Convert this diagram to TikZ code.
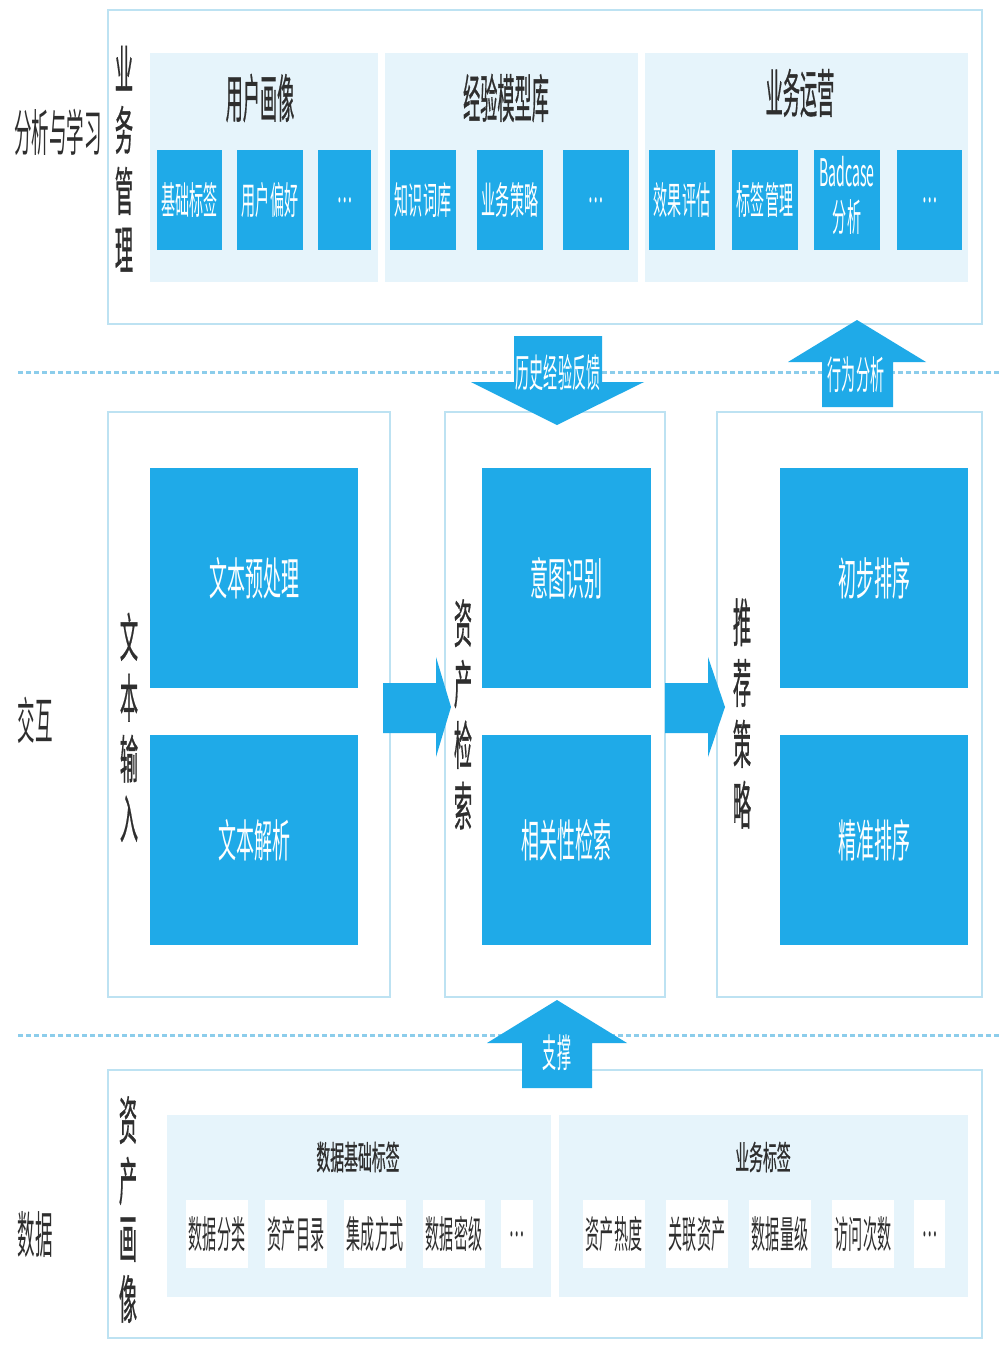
\documentclass[tikz,border=0pt]{standalone}
\usepackage{fontspec}
\usepackage{graphicx}
\setmainfont{Noto Sans CJK SC}
\newfontfamily\medfont{Noto Sans CJK SC}[FakeBold=0.9]
\definecolor{bblue}{HTML}{1FAAE8}
\definecolor{pfill}{HTML}{E6F4FB}
\definecolor{bord}{HTML}{BDE2F2}
\definecolor{dashc}{HTML}{8CCDEB}
\definecolor{tgray}{HTML}{2E2E2E}
\newcommand\hsq[2]{\scalebox{#1}[1]{#2}}
\newcommand\vtxt[2]{\scalebox{#1}[1]{\begin{tabular}{@{}c@{}}#2\end{tabular}}}
\tikzset{
  outerbox/.style={draw=bord, line width=2pt, fill=white, inner sep=0pt},
  panel/.style={fill=pfill, draw=none, inner sep=0pt},
  bluebox/.style={fill=bblue, draw=none, inner sep=0pt, text=white, align=center, font=\fontsize{38}{45}\selectfont},
  bigbox/.style={fill=bblue, draw=none, inner sep=0pt, text=white, font=\fontsize{45}{47}\selectfont},
  whitebox/.style={fill=white, draw=none, inner sep=0pt, text=tgray, font=\fontsize{38}{40}\selectfont},
  ttl/.style={text=tgray, inner sep=0pt, font=\medfont\fontsize{52}{54}\selectfont},
  bttl/.style={text=tgray, inner sep=0pt, font=\medfont\fontsize{33}{35}\selectfont},
  sidelab/.style={text=tgray, inner sep=0pt, font=\fontsize{50}{52}\selectfont},
  vlab/.style={text=tgray, inner sep=0pt, font=\medfont\fontsize{52}{57}\selectfont},
  blockarrow/.style={fill=bblue, draw=none},
  arrlab/.style={text=white, inner sep=0pt, font=\fontsize{39}{41}\selectfont},
  sepline/.style={draw=dashc, line width=3pt, dash pattern=on 5pt off 3pt}
}
\begin{document}
\begin{tikzpicture}[x=1pt,y=-1pt]
\useasboundingbox[fill=white] (0,0) rectangle (1000,1354);

% separator lines
\draw[sepline] (18,372) -- (1000,372);
\draw[sepline] (18,1035) -- (1000,1035);

% side labels
\node[sidelab] (lab1) at (58,132) {\hsq{0.35}{分析与学习}};
\node[sidelab] (lab2) at (35,720) {\hsq{0.35}{交互}};
\node[sidelab] (lab3) at (35,1235) {\hsq{0.35}{数据}};

% ===== top section =====
\node[outerbox, minimum width=874pt, minimum height=314pt] (top) at (545,167) {};
\node[vlab] (topv) at (124,166) {\vtxt{0.35}{业\\务\\管\\理}};
\node[panel, minimum width=228pt, minimum height=229pt] (p1) at (264,167.5) {};
\node[panel, minimum width=253pt, minimum height=229pt] (p2) at (511.5,167.5) {};
\node[panel, minimum width=323pt, minimum height=229pt] (p3) at (806.5,167.5) {};
\node[ttl] (p1t) at (260,98) {\hsq{0.33}{用户画像}};
\node[ttl] (p2t) at (506,98) {\hsq{0.33}{经验模型库}};
\node[ttl] (p3t) at (800,93) {\hsq{0.33}{业务运营}};
\node[bluebox, minimum width=65pt, minimum height=100pt] (b1) at (189.5,200) {\hsq{0.37}{基础标签}};
\node[bluebox, minimum width=66pt, minimum height=100pt] (b2) at (270,200) {\hsq{0.37}{用户偏好}};
\node[bluebox, minimum width=53pt, minimum height=100pt] (b3) at (344.5,200) {\hsq{0.37}{…}};
\node[bluebox, minimum width=66pt, minimum height=100pt] (b4) at (423,200) {\hsq{0.37}{知识词库}};
\node[bluebox, minimum width=66pt, minimum height=100pt] (b5) at (510,200) {\hsq{0.37}{业务策略}};
\node[bluebox, minimum width=66pt, minimum height=100pt] (b6) at (596,200) {\hsq{0.37}{…}};
\node[bluebox, minimum width=66pt, minimum height=100pt] (b7) at (682,200) {\hsq{0.37}{效果评估}};
\node[bluebox, minimum width=66pt, minimum height=100pt] (b8) at (765,200) {\hsq{0.37}{标签管理}};
\node[bluebox, minimum width=66pt, minimum height=100pt] (b9) at (847,200) {\hsq{0.37}{\begin{tabular}{@{}c@{}}Badcase\\分析\end{tabular}}};
\node[bluebox, minimum width=65pt, minimum height=100pt] (b10) at (929.5,200) {\hsq{0.37}{…}};

% ===== middle section =====
\node[outerbox, minimum width=282pt, minimum height=585pt] (m1) at (249,704.5) {};
\node[outerbox, minimum width=220pt, minimum height=585pt] (m2) at (555,704.5) {};
\node[outerbox, minimum width=265pt, minimum height=585pt] (m3) at (849.5,704.5) {};
\node[vlab] (m1v) at (129,734) {\vtxt{0.35}{文\\本\\输\\入}};
\node[vlab] (m2v) at (463,721) {\vtxt{0.35}{资\\产\\检\\索}};
\node[vlab] (m3v) at (742,720) {\vtxt{0.35}{推\\荐\\策\\略}};
\node[bigbox, minimum width=208pt, minimum height=220pt] (t1) at (254,578) {\hsq{0.4}{文本预处理}};
\node[bigbox, minimum width=208pt, minimum height=210pt] (t2) at (254,840) {\hsq{0.4}{文本解析}};
\node[bigbox, minimum width=169pt, minimum height=220pt] (r1) at (566.5,578) {\hsq{0.4}{意图识别}};
\node[bigbox, minimum width=169pt, minimum height=210pt] (r2) at (566.5,840) {\hsq{0.4}{相关性检索}};
\node[bigbox, minimum width=188pt, minimum height=220pt] (s1) at (874,578) {\hsq{0.4}{初步排序}};
\node[bigbox, minimum width=188pt, minimum height=210pt] (s2) at (874,840) {\hsq{0.4}{精准排序}};

% right block arrows
\fill[blockarrow] (383,683) -- (436,683) -- (436,657) -- (451,707) -- (436,757) -- (436,733) -- (383,733) -- cycle;
\fill[blockarrow] (665,683) -- (708,683) -- (708,657) -- (725,707) -- (708,757) -- (708,733) -- (665,733) -- cycle;

% ===== bottom section =====
\node[outerbox, minimum width=874pt, minimum height=268pt] (bot) at (545,1204) {};
\node[vlab] (botv) at (128,1216) {\vtxt{0.35}{资\\产\\画\\像}};
\node[panel, minimum width=384pt, minimum height=182pt] (q1) at (359,1206) {};
\node[panel, minimum width=409pt, minimum height=182pt] (q2) at (763.5,1206) {};
\node[bttl] (q1t) at (358,1157) {\hsq{0.42}{数据基础标签}};
\node[bttl] (q2t) at (763,1157) {\hsq{0.42}{业务标签}};
\node[whitebox, minimum width=62pt, minimum height=68pt] (w1) at (217,1234) {\hsq{0.37}{数据分类}};
\node[whitebox, minimum width=62pt, minimum height=68pt] (w2) at (296,1234) {\hsq{0.37}{资产目录}};
\node[whitebox, minimum width=62pt, minimum height=68pt] (w3) at (375,1234) {\hsq{0.37}{集成方式}};
\node[whitebox, minimum width=62pt, minimum height=68pt] (w4) at (454,1234) {\hsq{0.37}{数据密级}};
\node[whitebox, minimum width=32pt, minimum height=68pt] (w5) at (517,1234) {\hsq{0.37}{…}};
\node[whitebox, minimum width=62pt, minimum height=68pt] (w6) at (614,1234) {\hsq{0.37}{资产热度}};
\node[whitebox, minimum width=62pt, minimum height=68pt] (w7) at (697,1234) {\hsq{0.37}{关联资产}};
\node[whitebox, minimum width=62pt, minimum height=68pt] (w8) at (780,1234) {\hsq{0.37}{数据量级}};
\node[whitebox, minimum width=62pt, minimum height=68pt] (w9) at (863,1234) {\hsq{0.37}{访问次数}};
\node[whitebox, minimum width=31pt, minimum height=68pt] (w10) at (929.5,1234) {\hsq{0.37}{…}};

% vertical block arrows
\fill[blockarrow] (514,336) -- (602,336) -- (602,382) -- (644,382) -- (557,425) -- (471,382) -- (514,382) -- cycle;
\node[arrlab] (a1) at (558,373) {\hsq{0.36}{历史经验反馈}};
\fill[blockarrow] (822,407) -- (893,407) -- (893,362) -- (926,362) -- (857,320) -- (788,362) -- (822,362) -- cycle;
\node[arrlab] (a2) at (856,375) {\hsq{0.36}{行为分析}};
\fill[blockarrow] (522,1088) -- (592,1088) -- (592,1043) -- (627,1043) -- (557,1000) -- (487,1043) -- (522,1043) -- cycle;
\node[arrlab] (a3) at (557,1053) {\hsq{0.36}{支撑}};
\end{tikzpicture}
\end{document}
